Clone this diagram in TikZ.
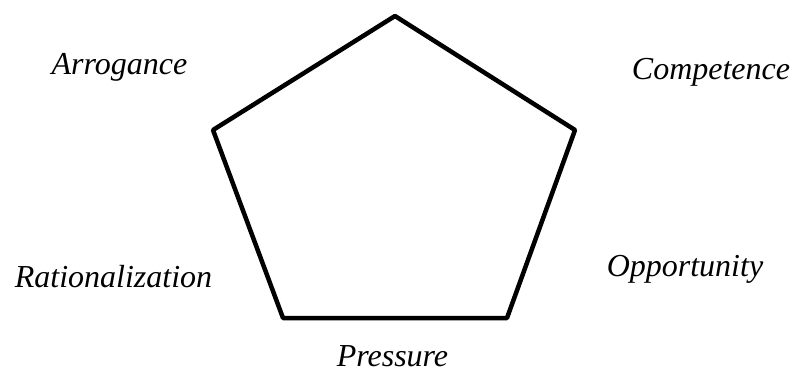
\documentclass[tikz,border=0pt]{standalone}
\usepackage{fontspec}
\setmainfont{Liberation Serif}
\begin{document}
\begin{tikzpicture}[x=1pt,y=-1pt,
  lbl/.style={font=\itshape\fontsize{32}{36}\selectfont, inner sep=0pt, anchor=base}]
\useasboundingbox (0,0) rectangle (792,372);
\coordinate (t) at (395,16);
\coordinate (r) at (575,130);
\coordinate (br) at (507,318);
\coordinate (bl) at (283,318);
\coordinate (l) at (213,130);
\draw[line width=4.5pt, line join=bevel] (t) -- (r) -- (br) -- (bl) -- (l) -- cycle;
\node[lbl] (arr) at (119.5,74) {Arrogance};
\node[lbl] (comp) at (711,79) {Competence};
\node[lbl] (opp) at (685,276) {Opportunity};
\node[lbl] (rat) at (113.5,287) {Rationalization};
\node[lbl] (pres) at (392.5,366) {Pressure};
\end{tikzpicture}
\end{document}
